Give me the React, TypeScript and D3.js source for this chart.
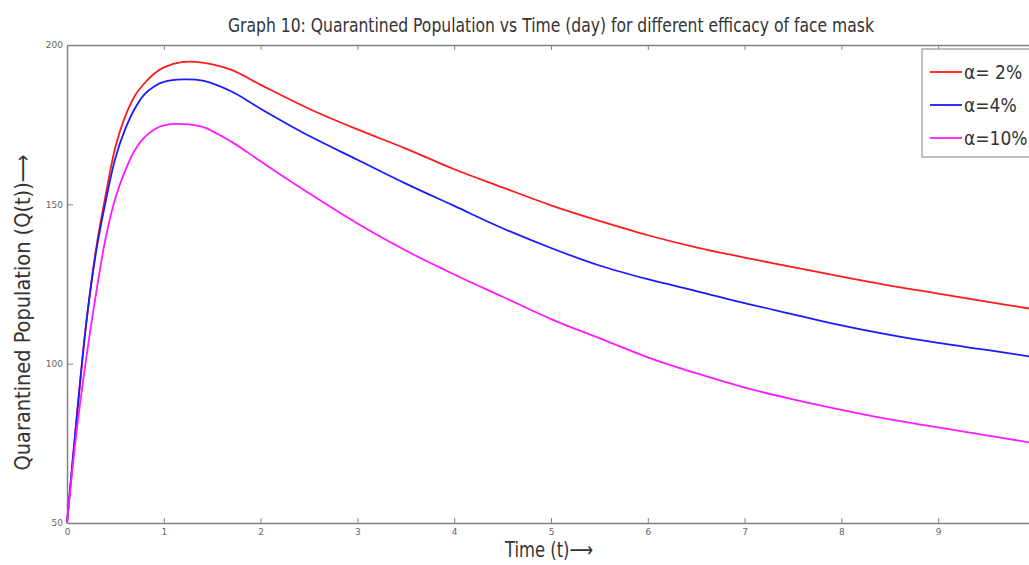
import React, { useEffect, useRef } from "react";
import * as d3 from "d3";

// time (days) and Q(t) for each mask efficacy
const timeDays = [0, 0.1, 0.2, 0.3, 0.4, 0.5, 0.6, 0.7, 0.8, 0.9, 1.0, 1.2, 1.4, 1.7, 2, 2.5, 3, 3.5, 4, 4.5, 5, 5.5, 6, 6.5, 7, 7.5, 8, 8.5, 9, 9.5, 10];
const alpha2 = [50, 83, 113, 136, 153, 168, 177.5, 184, 188, 191, 193, 194.7, 194.5, 192.2, 187.5, 180, 173.5, 167.5, 161, 155.3, 149.7, 144.8, 140.3, 136.5, 133.3, 130.3, 127.3, 124.5, 122, 119.5, 117];
const alpha4 = [50, 83, 113, 135, 151, 164.5, 173.5, 180, 184.5, 187, 188.4, 189.2, 188.8, 185.4, 180, 171.5, 164, 156.5, 149.5, 142.5, 136.3, 130.8, 126.5, 122.8, 119, 115.5, 112, 109, 106.5, 104.3, 102];
const alpha10 = [50, 79, 102, 122, 139.5, 152, 160.5, 167, 171, 173.5, 174.8, 175.2, 174.3, 169.6, 163.5, 153.5, 144, 135.5, 128, 121, 114, 108, 102, 97, 92.5, 88.8, 85.5, 82.5, 80, 77.5, 75];

const xTicks = [0, 1, 2, 3, 4, 5, 6, 7, 8, 9];
const yTicks = [50, 100, 150, 200];
const legendLabels = ["α= 2%", "α=4%", "α=10%"];
const seriesColors = ["#ff1a1a", "#1a1aff", "#ff1aff"];

const condensed = "'DejaVu Sans Condensed', 'Liberation Sans Narrow', 'DejaVu Sans', sans-serif";

const App = () => {
  const ref = useRef<SVGSVGElement>(null);

  useEffect(() => {
    const width = 1029;
    const height = 565;
    const margin = { top: 45, left: 67, bottom: 42 };

    const svg = d3.select(ref.current);
    svg.selectAll("*").remove();

    const x = d3.scaleLinear().domain([0, 10]).range([margin.left, 1035]);
    const y = d3.scaleLinear().domain([50, 200]).range([height - margin.bottom, margin.top]);

    svg.append("rect").attr("width", width).attr("height", height).attr("fill", "#fff");

    // box axes
    const gray = "#808080";
    const styleAxis = (g) => {
      g.select(".domain").attr("stroke", gray).attr("stroke-width", 1.5);
      g.selectAll(".tick line").attr("stroke", gray);
      g.selectAll(".tick text").attr("fill", "#666").attr("font-size", 9).attr("font-family", "'DejaVu Sans', sans-serif");
    };

    svg.append("g")
      .attr("transform", `translate(0, ${y(50)})`)
      .call(d3.axisBottom(x).tickValues(xTicks).tickSizeInner(-5).tickSizeOuter(0).tickPadding(6).tickFormat(d3.format("d")))
      .call(styleAxis);

    svg.append("g")
      .attr("transform", `translate(0, ${y(200)})`)
      .call(d3.axisTop(x).tickValues(xTicks).tickSizeInner(-5).tickSizeOuter(0).tickFormat(() => ""))
      .call(styleAxis);

    svg.append("g")
      .attr("transform", `translate(${x(0)}, 0)`)
      .call(d3.axisLeft(y).tickValues(yTicks).tickSizeInner(-6).tickSizeOuter(0).tickPadding(4))
      .call(styleAxis);

    // curves
    const line = d3.line<number>()
      .x((d, i) => x(timeDays[i]))
      .y((d) => y(d))
      .curve(d3.curveCatmullRom.alpha(0.5));

    [alpha2, alpha4, alpha10].forEach((s, i) => {
      svg.append("path")
        .datum(s)
        .attr("fill", "none")
        .attr("stroke", seriesColors[i])
        .attr("stroke-width", 1.8)
        .attr("d", line);
    });

    // title and axis labels
    svg.append("text")
      .attr("x", 551).attr("y", 32)
      .attr("text-anchor", "middle")
      .attr("font-family", condensed)
      .attr("font-size", 20)
      .attr("fill", "#333")
      .attr("textLength", 646)
      .attr("lengthAdjust", "spacingAndGlyphs")
      .text("Graph 10: Quarantined Population vs Time (day) for different efficacy of face mask");

    svg.append("text")
      .attr("x", 549).attr("y", 557)
      .attr("text-anchor", "middle")
      .attr("font-family", condensed)
      .attr("font-size", 21)
      .attr("fill", "#333")
      .attr("textLength", 88)
      .attr("lengthAdjust", "spacingAndGlyphs")
      .text("Time (t)⟶");

    svg.append("text")
      .attr("transform", `translate(30, ${(470 + 155) / 2}) rotate(-90)`)
      .attr("text-anchor", "middle")
      .attr("font-family", condensed)
      .attr("font-size", 22)
      .attr("fill", "#333")
      .attr("textLength", 316)
      .attr("lengthAdjust", "spacingAndGlyphs")
      .text("Quarantined Population (Q(t))⟶");

    // legend
    const legend = svg.append("g").attr("transform", "translate(922, 49)");
    legend.append("rect")
      .attr("width", 112).attr("height", 108)
      .attr("fill", "#fff").attr("stroke", gray).attr("stroke-width", 1);

    const rows = legend.selectAll("g.row")
      .data(legendLabels)
      .enter().append("g")
      .attr("transform", (d, i) => `translate(0, ${23 + i * 33})`);

    rows.append("line")
      .attr("x1", 8).attr("x2", 40)
      .attr("stroke", (d, i) => seriesColors[i])
      .attr("stroke-width", 1.8);

    rows.append("text")
      .attr("x", 42).attr("y", 7)
      .attr("font-family", condensed)
      .attr("font-stretch", "condensed")
      .attr("font-size", 19)
      .attr("fill", "#333")
      .text((d) => d);
  }, []);

  return <svg ref={ref} width={1029} height={565} style={{ position: "absolute", left: 0, top: 0 }} />;
};

export default App;
